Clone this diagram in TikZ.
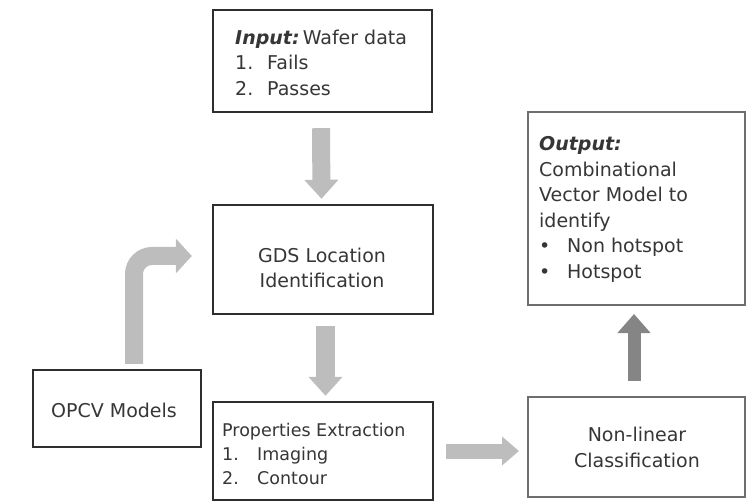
\documentclass[tikz,border=0pt]{standalone}
\usepackage{fontspec}
\setmainfont{DejaVu Sans}
\usetikzlibrary{arrows.meta}
\definecolor{txtc}{HTML}{363636}
\definecolor{darkbd}{HTML}{2E2E2E}
\definecolor{lightbd}{HTML}{6E6E6E}
\definecolor{arrl}{HTML}{BDBDBD}
\definecolor{arrd}{HTML}{858585}
\tikzset{
  darkbox/.style={draw=darkbd, line width=2.4pt, fill=white, inner sep=0pt},
  lightbox/.style={draw=lightbd, line width=2pt, fill=white, inner sep=0pt},
  txt/.style={text=txtc, inner sep=0pt, font=\fontsize{19}{25.5}\selectfont},
  smalltxt/.style={text=txtc, inner sep=0pt, font=\fontsize{17.5}{24}\selectfont},
  bigarrow/.style={draw=arrl, line width=18pt, -{Triangle[length=19pt,width=33pt]}},
}
\newcommand{\bi}[1]{\textbf{\textit{#1}}}
\begin{document}
\begin{tikzpicture}[x=1pt,y=-1pt]
\useasboundingbox (0,0) rectangle (746,502);
% boxes
\node[darkbox, minimum width=219pt, minimum height=102pt] (in) at (322.5,61) {};
\node[darkbox, minimum width=220pt, minimum height=109pt] (gds) at (323,259.5) {};
\node[darkbox, minimum width=220pt, minimum height=98pt] (props) at (323,451) {};
\node[darkbox, minimum width=168pt, minimum height=77pt] (opcv) at (117,408.5) {};
\node[lightbox, minimum width=217pt, minimum height=100pt] (nonlin) at (636.5,447) {};
\node[lightbox, minimum width=217pt, minimum height=193pt] (out) at (636.5,208.5) {};
% texts
\node[txt, align=left, anchor=west] (intxt) at (235,62.5)
  {\bi{Input:}\,Wafer data\\ \makebox[32pt][l]{1.}Fails\\ \makebox[32pt][l]{2.}Passes};
\node[txt, align=center] (gdstxt) at (322,268) {GDS Location\\Identification};
\node[smalltxt, align=left, anchor=west] (proptxt) at (222,454)
  {Properties Extraction\\ \makebox[35pt][l]{1.}Imaging\\ \makebox[35pt][l]{2.}Contour};
\node[txt] (opcvtxt) at (114,410) {OPCV Models};
\node[txt, align=center] (nltxt) at (637,447.5) {Non-linear\\Classification};
\node[txt, align=left, anchor=west] (outtxt) at (539,209.5)
  {\bi{Output:}\\Combinational\\Vector Model to\\identify\\ \makebox[28pt][l]{\textbullet}Non hotspot\\ \makebox[28pt][l]{\textbullet}Hotspot};
% arrows
\draw[bigarrow] ([xshift=-1.5pt,yshift=-15pt]in.south) -- ([xshift=-1.5pt,yshift=5pt]gds.north);
\draw[bigarrow, line width=19pt] ([xshift=2.5pt,yshift=-11pt]gds.south) -- ([xshift=2.5pt,yshift=5pt]props.north);
\draw[bigarrow, rounded corners=18pt, -{Triangle[length=16pt,width=34pt]}]
  ([xshift=17pt,yshift=5pt]opcv.north) |- ([xshift=-20pt,yshift=3.5pt]gds.west);
\draw[bigarrow, line width=15pt, -{Triangle[length=17pt,width=28pt]}]
  ([xshift=12pt]props.east) -- ([xshift=-8pt]nonlin.west |- props.east);
\draw[bigarrow, draw=arrd, line width=13pt, -{Triangle[length=19pt,width=32pt]}]
  ([xshift=-2.5pt,yshift=15pt]nonlin.north) -- ([xshift=-2.5pt,yshift=-8pt]out.south);
\end{tikzpicture}
\end{document}
